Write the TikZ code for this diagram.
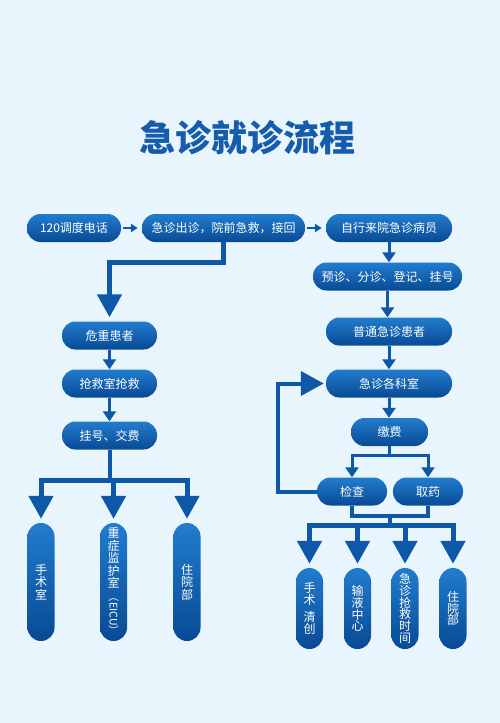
\documentclass[tikz,border=0pt]{standalone}
\usepackage{fontspec}
\usepackage{graphicx}
\setmainfont{Noto Sans CJK SC}
\usetikzlibrary{arrows.meta,positioning}
\definecolor{bgblue}{RGB}{233,245,253}
\definecolor{lineblue}{RGB}{14,88,168}
\definecolor{boxtop}{RGB}{34,124,206}
\definecolor{boxbot}{RGB}{8,74,148}
\definecolor{titleblue}{RGB}{22,92,172}
\begin{document}
\begin{tikzpicture}[x=1pt,y=-1pt,
	box/.style={rounded corners=13.5pt,top color=boxtop,bottom color=boxbot,text=white,minimum height=28pt,inner sep=0pt,font=\fontsize{12}{14}\selectfont},
	pill/.style={box,minimum width=27pt,align=center},
	thin/.style={lineblue,line width=2pt,-{Triangle[width=8pt,length=7pt]}},
	mid/.style={lineblue,line width=3pt,-{Triangle[width=13pt,length=10pt]}},
	fat/.style={lineblue,line width=5pt,-{Triangle[width=24pt,length=23pt]}},
	bar/.style={lineblue,line width=4pt}]
	\fill[bgblue] (0,0) rectangle (500,723);
	\node[text=titleblue,font=\bfseries\fontsize{36}{40}\selectfont] (title) at (247,138) {急诊就诊流程};
	% top row
	\node[box,minimum width=94pt] (call) at (74,228) {120调度电话};
	\node[box,minimum width=163pt] (out) at (223.5,228) {急诊出诊，院前急救，接回};
	\node[box,minimum width=126pt] (self) at (389,228) {自行来院急诊病员};
	\draw[thin,shorten <=2pt,shorten >=4pt] (call) -- (out);
	\draw[thin,shorten <=2pt,shorten >=4pt] (out) -- (self);
	% left column
	\node[box,minimum width=95pt] (crit) at (109.5,335.5) {危重患者};
	\node[box,minimum width=95pt] (resc) at (109.5,383.5) {抢救室抢救};
	\node[box,minimum width=95pt] (reg) at (109.5,435.5) {挂号、交费};
	\draw[fat,shorten >=4pt] (out.south) -- ++(0,20) -| (crit.north);
	\draw[mid] (crit.south) -- (crit.south |- resc.north);
	\draw[mid] (resc.south) -- (resc.south |- reg.north);
	\foreach \n/\x/\t in {pa/41/手\\术\\室,pb/113.5/重\\症\\监\\护\\室\\[-8pt]{\fontsize{10.5}{10.5}\selectfont\rotatebox{-90}{（EICU）}},pc/187/住\\院\\部}
		\node[pill,minimum height=118pt,font=\fontsize{12}{12.4}\selectfont] (\n) at (\x,582) {\t};
	\draw[bar] (reg.south) -- ++(0,31) coordinate (ls);
	\foreach \n in {pa,pb,pc}
		\draw[fat,shorten >=4pt] (ls) -| (\n.north);
	% right column
	\node[box,minimum width=149pt] (tri) at (387.5,276.5) {预诊、分诊、登记、挂号};
	\node[box,minimum width=126pt] (norm) at (389,331.5) {普通急诊患者};
	\node[box,minimum width=126pt] (dept) at (389,383.5) {急诊各科室};
	\node[box,minimum width=77pt] (pay) at (389.5,432) {缴费};
	\node[box,minimum width=70pt] (chk) at (352,491.5) {检查};
	\node[box,minimum width=70pt] (med) at (428,491.5) {取药};
	\draw[mid] (self.south) -- (self.south |- tri.north);
	\draw[mid] (tri.south) -- (tri.south |- norm.north);
	\draw[mid] (norm.south) -- (norm.south |- dept.north);
	\draw[mid] (dept.south) -- (dept.south |- pay.north);
	\draw[bar,line width=3pt] (pay.south) -- ++(0,9) coordinate (pj);
	\draw[mid] (pj) -| (chk.north);
	\draw[mid] (pj) -| (med.north);
	\draw[fat,line width=4pt,shorten >=2pt] (chk.west) -- ++(-39,0) |- (dept.west);
	\foreach \n/\x/\t in {qa/309.5/手\\术\\[6pt]清\\创,qb/357.5/输\\液\\中\\心,qc/405/急\\诊\\抢\\救\\时\\间,qd/453/住\\院\\部}
		\node[pill,minimum height=81pt,font=\fontsize{12}{11.8}\selectfont] (\n) at (\x,608.5) {\t};
	\draw[bar] (chk.south) -- ++(0,10) coordinate (c1) -- (c1 -| med.south) coordinate[pos=.5] (rs) -- (med.south);
	\draw[bar] (rs) -- ++(0,10) coordinate (rt);
	\foreach \n in {qa,qb,qc,qd}
		\draw[fat,shorten >=4pt] (rt) -| (\n.north);
\end{tikzpicture}
\end{document}
